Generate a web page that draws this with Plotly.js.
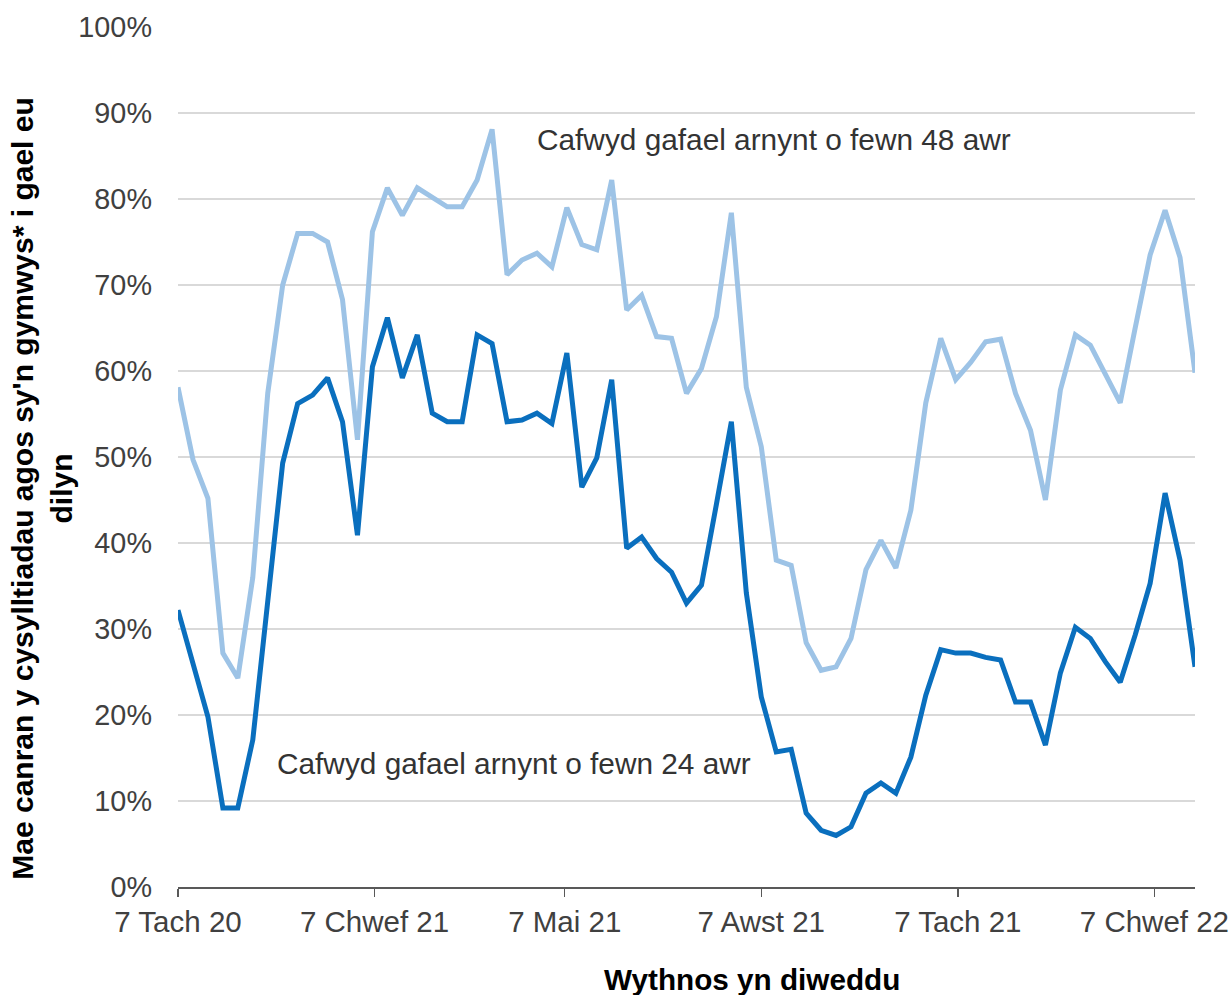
<!DOCTYPE html>
<html>
<head>
<meta charset="utf-8">
<script src="https://cdn.plot.ly/plotly-3.0.1.min.js"></script>
<style>html,body{margin:0;padding:0;background:#fff;}#chart{width:1231px;height:995px;}</style>
</head>
<body>
<div id="chart"></div>
<script>
// Weekly periods (week ending), first week and number of weeks
const firstWeek = '2020-11-07';
const nWeeks = 69;

// Share of eligible close contacts reached within 48 hours (%)
const within48 = [58.1, 49.7, 45.2, 27.2, 24.3, 36, 57.4, 70, 76, 76,
  75, 68.3, 52, 76.2, 81.3, 78.1, 81.3, 80.2, 79.1, 79.1,
  82.2, 88.1, 71.2, 72.9, 73.7, 72.1, 79, 74.7, 74.1, 82.2,
  67.1, 68.8, 64, 63.8, 57.4, 60.3, 66.3, 78.4, 58.1, 51.2,
  38, 37.4, 28.4, 25.2, 25.6, 28.9, 36.9, 40.3, 37.1, 43.8,
  56.3, 63.8, 59, 61, 63.4, 63.7, 57.4, 53.1, 45, 57.8,
  64.2, 63, 59.8, 56.3, 65, 73.5, 78.7, 73.2, 59.8];

// Share of eligible close contacts reached within 24 hours (%)
const within24 = [32.2, 26, 19.8, 9.2, 9.2, 17.1, 33, 49.3, 56.2, 57.2,
  59.2, 54.1, 40.9, 60.5, 66.2, 59.2, 64.2, 55.1, 54.1, 54.1,
  64.2, 63.2, 54.1, 54.3, 55.1, 53.9, 62.1, 46.5, 49.9, 59,
  39.4, 40.7, 38.2, 36.6, 33, 35.1, 44.5, 54.1, 34.2, 22.1,
  15.7, 16, 8.6, 6.6, 6, 7, 10.9, 12.1, 10.9, 15.1,
  22.3, 27.6, 27.2, 27.2, 26.7, 26.4, 21.5, 21.5, 16.5, 24.9,
  30.2, 28.9, 26.2, 23.8, 29.3, 35.3, 45.8, 38, 25.6];

// X tick positions and labels
const tickDates = ['2020-11-07', '2021-02-07', '2021-05-07', '2021-08-07', '2021-11-07', '2022-02-07'];
const tickLabels = ['7 Tach 20', '7 Chwef 21', '7 Mai 21', '7 Awst 21', '7 Tach 21', '7 Chwef 22'];

// Texts
const label48 = 'Cafwyd gafael arnynt o fewn 48 awr';
const label24 = 'Cafwyd gafael arnynt o fewn 24 awr';
const xTitle = 'Wythnos yn diweddu';
const yTitle = "Mae canran y cysylltiadau agos sy'n gymwys* i gael eu<br>dilyn";

// build week dates
const weeks = [];
const start = new Date(firstWeek + 'T00:00:00Z');
for (let i = 0; i < nWeeks; i++) {
  const d = new Date(start.getTime() + i * 7 * 86400000);
  weeks.push(d.toISOString().slice(0, 10));
}

const FONT = 'Liberation Sans, Arial, sans-serif';

const traces = [
  {x: weeks, y: within48, type: 'scatter', mode: 'lines', name: label48,
   line: {color: '#9DC3E6', width: 5}, hoverinfo: 'x+y'},
  {x: weeks, y: within24, type: 'scatter', mode: 'lines', name: label24,
   line: {color: '#0A6FBE', width: 5}, hoverinfo: 'x+y'}
];

const layout = {
  width: 1231, height: 995,
  margin: {l: 178, r: 36, t: 27, b: 108},
  paper_bgcolor: '#ffffff', plot_bgcolor: '#ffffff',
  showlegend: false,
  font: {family: FONT, color: '#404040', size: 29},
  xaxis: {
    type: 'date',
    range: ['2020-11-07', '2022-02-26'],
    tickmode: 'array', tickvals: tickDates, ticktext: tickLabels,
    ticks: 'outside', ticklen: 8, tickwidth: 1.5, tickcolor: '#595959',
    showline: true, linecolor: '#595959', linewidth: 2,
    showgrid: false, zeroline: false,
    tickfont: {family: FONT, size: 29.5, color: '#404040'}
  },
  yaxis: {
    range: [0, 100], dtick: 10, tick0: 0, ticksuffix: '%',
    showgrid: true, gridcolor: '#d9d9d9', gridwidth: 1.5,
    zeroline: false, showline: false, ticks: '',
    ticklabelstandoff: 25,
    tickfont: {family: FONT, size: 28.8, color: '#404040'}
  },
  annotations: [
    {text: label48, xref: 'paper', yref: 'y', x: 0.351, y: 86.9,
     xanchor: 'left', yanchor: 'middle', showarrow: false,
     font: {family: FONT, size: 29.8, color: '#333333'}},
    {text: label24, xref: 'paper', yref: 'y', x: 0.0955, y: 14.4,
     xanchor: 'left', yanchor: 'middle', showarrow: false,
     font: {family: FONT, size: 29.8, color: '#333333'}},
    {text: '<b>' + xTitle + '</b>', xref: 'paper', yref: 'paper', x: 0.5644, y: -0.108,
     xanchor: 'center', yanchor: 'middle', showarrow: false,
     font: {family: FONT, size: 29.7, color: '#000000'}},
    {text: '<b>' + yTitle + '</b>', xref: 'paper', yref: 'paper', x: -0.134, y: 0.4628,
     xanchor: 'center', yanchor: 'middle', showarrow: false, textangle: -90,
     font: {family: FONT, size: 30, color: '#000000'}}
  ]
};

Plotly.newPlot('chart', traces, layout, {displayModeBar: false, staticPlot: true});
</script>
</body>
</html>
